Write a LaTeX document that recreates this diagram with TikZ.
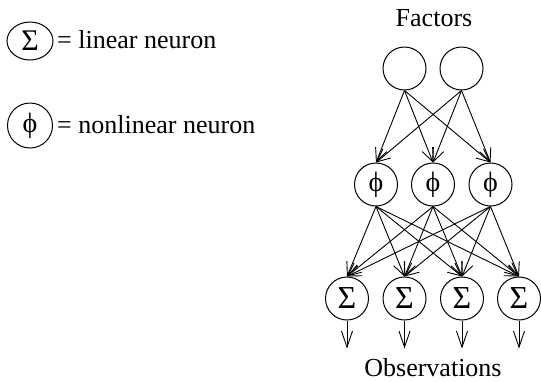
\documentclass[tikz,border=0pt]{standalone}
\usepackage{fontspec}
\setmainfont{Liberation Serif}
\usetikzlibrary{arrows.meta,shapes.geometric}
\newcommand{\phisym}{{\fontsize{28}{30}\selectfont ϕ}}
\begin{document}
\begin{tikzpicture}[x=1pt,y=-1pt,
  neuron/.style={draw,circle,line width=1pt,minimum size=43pt,inner sep=0pt,font=\fontsize{32}{36}\selectfont},
  lbl/.style={font=\fontsize{26}{30}\selectfont,inner sep=0pt},
  conn/.style={line width=0.9pt,-{Straight Barb[length=13pt,width=12pt,line width=0.9pt]}},
  outarr/.style={line width=0.9pt,-{Straight Barb[length=16pt,width=11pt,line width=0.9pt]}}]
\useasboundingbox (0,0) rectangle (541,381);
% legend
\node[draw,ellipse,line width=1pt,minimum width=46pt,minimum height=38pt,inner sep=0pt,font=\fontsize{30}{34}\selectfont] (ls) at (30,41) {Σ};
\node[lbl,anchor=base west] (lst) at (57,48) {= linear neuron};
\node[neuron,minimum size=45pt] (lp) at (30,125.5) {\phisym};
\node[lbl,anchor=base west] (lpt) at (57,133) {= nonlinear neuron};
% titles
\node[lbl,anchor=base] (fac) at (434,26) {Factors};
\node[lbl,anchor=base] (obs) at (433,376) {Observations};
% factors
\node[neuron] (f1) at (404.5,68.5) {};
\node[neuron] (f2) at (461.5,68.5) {};
% hidden
\node[neuron] (h1) at (376,184.5) {\phisym};
\node[neuron] (h2) at (433,184.5) {\phisym};
\node[neuron] (h3) at (490.5,184.5) {\phisym};
% outputs
\node[neuron] (o1) at (347,298.5) {Σ};
\node[neuron] (o2) at (404.5,298.5) {Σ};
\node[neuron] (o3) at (462,298.5) {Σ};
\node[neuron] (o4) at (519,298.5) {Σ};
\foreach \f in {f1,f2}
  \foreach \h in {h1,h2,h3}
    \draw[conn] (\f.south) -- (\h.north);
\foreach \h in {h1,h2,h3}
  \foreach \o in {o1,o2,o3,o4}
    \draw[conn] (\h.south) -- (\o.north);
\foreach \o in {o1,o2,o3,o4} {
  \coordinate (\o e) at ([yshift=-28pt]\o.south);
  \draw[outarr] (\o.south) -- (\o e);
}
\end{tikzpicture}
\end{document}
